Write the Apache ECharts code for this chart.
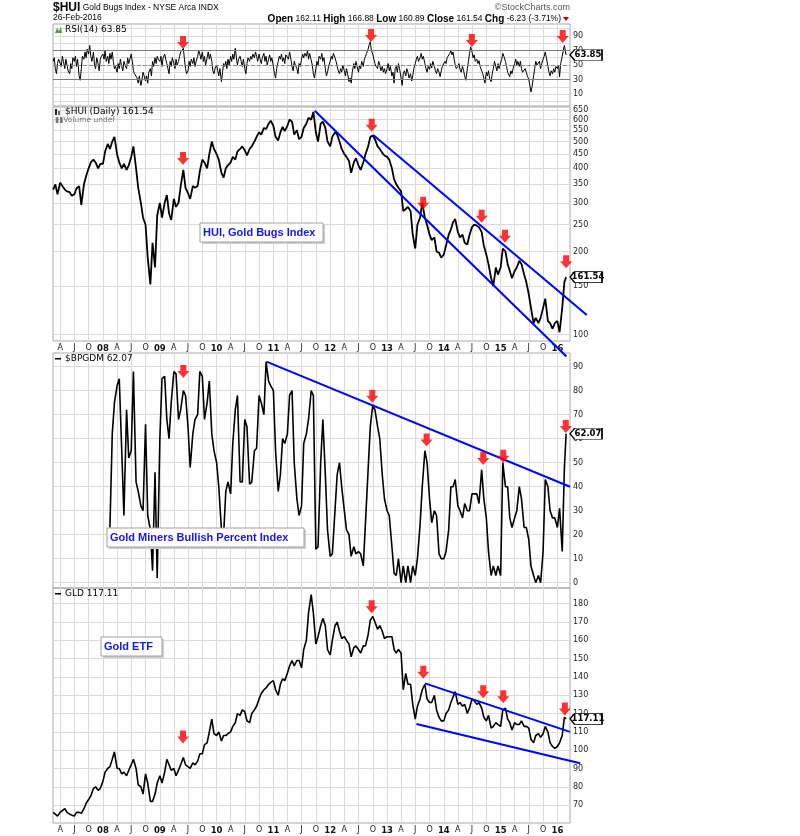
<!DOCTYPE html>
<html>
<head>
<meta charset="utf-8">
<title>$HUI Gold Bugs Index</title>
<script src="https://cdn.jsdelivr.net/npm/echarts@6/dist/echarts.min.js"></script>
<style>
  html, body { margin: 0; padding: 0; background: #fff; }
  #chart { width: 800px; height: 836px; }
</style>
</head>
<body>
<div id="chart"></div>
<script>
// ---- data (semi-monthly for prices, weekly for RSI) ----
var hui = [
  335, 350, 322, 355, 345, 335, 330, 328, 318, 322, 338, 345, 295, 350, 375, 400, 420, 430, 420, 400, 415, // 2007 from Feb 15
  415, 460, 490, 470, 500, 520, 450, 420, 400, 415, 395, 410, 440, 480, 400, 340, 300, 265, 250, 190, 152, 215, 175, 270, // 2008
  300, 265, 300, 320, 275, 260, 310, 290, 300, 345, 395, 340, 325, 310, 345, 340, 345, 390, 430, 420, 400, 450, 500, 470, // 2009
  450, 430, 385, 370, 400, 410, 420, 440, 430, 460, 470, 480, 465, 445, 470, 480, 500, 520, 540, 530, 560, 555, 580, 595, // 2010
  570, 520, 505, 540, 565, 545, 570, 600, 590, 530, 550, 510, 520, 560, 580, 610, 600, 640, 540, 500, 580, 590, 560, 500, // 2011
  480, 520, 540, 530, 500, 470, 450, 440, 425, 385, 420, 435, 410, 395, 420, 450, 480, 520, 525, 510, 480, 470, 455, 445, // 2012
  440, 430, 400, 365, 350, 340, 330, 280, 285, 290, 280, 230, 205, 250, 265, 300, 265, 250, 230, 220, 225, 200, 198, 190, // 2013
  195, 210, 230, 240, 255, 262, 235, 225, 230, 215, 212, 230, 245, 250, 248, 245, 235, 210, 195, 180, 160, 150, 175, 165, // 2014
  175, 205, 200, 180, 170, 160, 170, 175, 185, 180, 165, 155, 140, 125, 110, 115, 110, 115, 125, 135, 112, 110, 105, 110, // 2015
  112, 102, 125, 155, 161.54 // 2016
];
var bpgdm = [
  null, null, null, null, null, null, null, null, null, null, null, null, null, null, null, null, null, null, null, null, null, // 2007
  null, null, null, 23, 62, 75, 82, 85, 55, 28, 72, 52, 55, 88, 42, 38, 32, 30, 66, 28, 22, 5, 46, 2, // 2008
  60, 85, 86, 68, 60, 75, 88, 87, 68, 72, 80, 78, 65, 48, 62, 68, 70, 88, 86, 68, 75, 84, 62, 55, // 2009
  50, 40, 22, 20, 38, 42, 37, 58, 72, 78, 42, 42, 68, 65, 41, 42, 55, 56, 78, 75, 70, 92, 84, 82, // 2010
  80, 55, 38, 45, 60, 58, 62, 78, 80, 50, 35, 28, 32, 58, 62, 68, 80, 78, 14, 15, 50, 68, 45, 22, // 2011
  11, 12, 30, 45, 50, 40, 30, 22, 20, 11, 15, 12, 13, 12, 7, 25, 47, 65, 74, 72, 65, 60, 45, 35, // 2012
  30, 28, 15, 4, 3, 10, 0, 7, 0, 7, 0, 7, 3, 10, 24, 40, 55, 50, 35, 25, 30, 28, 12, 10, // 2013
  10, 13, 22, 40, 40, 43, 32, 30, 27, 33, 30, 30, 37, 37, 37, 33, 47, 35, 27, 13, 3, 7, 3, 7, // 2014
  3, 50, 40, 40, 27, 23, 27, 30, 40, 35, 23, 23, 18, 7, 3, 0, 3, 0, 13, 43, 40, 30, 27, 27, // 2015
  23, 31, 13, 48, 62.07 // 2016
];
var gld = [
  66, 65, 64, 66, 67, 68, 66, 65, 64.5, 64, 66, 66, 65.5, 68, 71, 73, 75, 79, 80, 78, 79, // 2007
  83, 88, 90, 91, 95, 99, 90, 90, 87, 88, 86, 89, 92, 95, 90, 81, 80, 76, 87, 82, 72, 72, 76, 82, // 2008
  86, 82, 88, 95, 92, 89, 90, 86, 89, 92, 96, 92, 91, 90, 93, 92, 94, 98, 98, 103, 104, 110, 117, 109, // 2009
  108, 110, 105, 108, 108, 109, 110, 113, 115, 120, 119, 122, 121, 116, 115, 120, 122, 124, 128, 131, 133, 134, 136, 137, // 2010
  138, 133, 130, 136, 139, 138, 142, 146, 149, 146, 149, 149, 145, 155, 160, 175, 185, 175, 158, 162, 168, 172, 168, 155, // 2011
  152, 160, 168, 170, 165, 161, 162, 160, 158, 151, 156, 157, 155, 153, 157, 157, 163, 171, 173, 170, 166, 168, 165, 161, // 2012
  162, 162, 162, 155, 153, 155, 153, 133, 142, 136, 136, 125, 117, 124, 128, 133, 136, 128, 126, 126, 130, 122, 118, 116, // 2013
  116, 120, 122, 126, 129, 132, 125, 126, 124, 125, 120, 123, 128, 127, 125, 126, 123, 118, 116, 119, 112, 113, 115, 114, // 2014
  113, 122, 123, 117, 115, 111, 115, 114, 114, 116, 113, 113, 112, 106, 104, 108, 109, 107, 109, 113, 110, 104, 102, 101, // 2015
  102, 104, 108, 118, 117.11 // 2016
];
var rsi = [
  55, 60, 45, 38, 52, 58, 60, 48, 62, 55, 45, 58, 50, 42, 38, 52, 45, 60, 55, 62, 48, 58, 35, 29, 45, 62, 58, 68, 60, 72, 65, 77, 62, 55, 68, 50, 45, 60, 52, 42, 58, 62, // 2007
  65, 58, 70, 55, 62, 52, 66, 58, 68, 55, 45, 48, 40, 52, 45, 58, 48, 42, 55, 50, 45, 60, 52, 58, 65, 55, 42, 38, 38, 32, 25, 35, 22, 30, 40, 35, 28, 35, 25, 40, 45, 35, 55, 48, 60, 52, 62, 58, // 2008
  55, 62, 48, 60, 65, 58, 52, 45, 38, 55, 48, 60, 52, 45, 58, 50, 55, 62, 68, 70, 73, 58, 45, 38, 42, 55, 48, 58, 52, 60, 48, 55, 62, 70, 65, 58, 68, 55, 62, 50, 60, 68, 58, 65, 55, 42, 38, 45, // 2009
  50, 42, 35, 45, 27, 40, 52, 48, 55, 45, 58, 50, 62, 55, 65, 58, 73, 60, 50, 58, 62, 55, 48, 58, 45, 38, 52, 60, 55, 62, 58, 65, 60, 68, 62, 55, 65, 58, 52, 60, 66, 55, 62, 50, 58, 64, 55, 60, // 2010
  48, 38, 32, 45, 55, 62, 58, 65, 55, 60, 52, 64, 66, 58, 68, 60, 48, 42, 55, 50, 45, 38, 52, 48, 58, 65, 60, 66, 62, 70, 58, 66, 64, 50, 38, 32, 45, 55, 50, 62, 58, 66, 55, 60, 45, 35, 40, 48, // 2011
  55, 62, 58, 66, 60, 55, 48, 42, 38, 45, 40, 50, 42, 35, 45, 38, 27, 32, 25, 40, 52, 45, 55, 48, 40, 50, 45, 55, 48, 58, 62, 66, 72, 78, 82, 70, 65, 58, 52, 48, 45, 55, 50, 42, 48, 40, 45, 38, // 2012
  45, 52, 42, 48, 35, 40, 25, 45, 48, 40, 52, 45, 32, 22, 38, 42, 35, 45, 40, 32, 38, 28, 35, 45, 52, 58, 62, 55, 60, 66, 58, 62, 52, 45, 40, 48, 44, 52, 46, 55, 48, 42, 38, 45, 40, 34, 42, 48, // 2013
  50, 55, 52, 60, 62, 66, 70, 64, 68, 58, 50, 45, 48, 52, 44, 40, 48, 42, 35, 29, 45, 55, 66, 75, 68, 60, 64, 55, 58, 52, 56, 48, 42, 38, 32, 25, 40, 35, 42, 32, 27, 38, 45, 55, 48, 42, 52, 45, // 2014
  45, 58, 66, 62, 55, 48, 40, 38, 34, 42, 38, 45, 52, 58, 50, 55, 48, 55, 45, 40, 38, 45, 40, 35, 30, 22, 13, 20, 35, 45, 55, 50, 48, 55, 45, 52, 58, 62, 68, 60, 48, 40, 35, 42, 38, 45, 40, 48, // 2015
  45, 50, 34, 52, 62, 70, 77, 68, 63.85 // 2016
];

// trend lines drawn on the chart: [date, value] end points
var huiLowerLine = [['2011-09-24', 646], ['2016-02-28', 83.3]];
var huiUpperLine = [['2012-10-04', 528], ['2016-07-08', 117.8]];
var bpgdmLine = [['2010-11-17', 92.1], ['2016-03-22', 40]];
var gldUpperLine = [['2013-09-02', 136.5], ['2016-03-22', 110]];
var gldLowerLine = [['2013-07-09', 114.3], ['2016-05-26', 92.8]];

// red arrows: [date, value at arrow tip]
var rsiArrows = [['2009-05-30', 72], ['2012-09-20', 81.7], ['2014-06-30', 74.8], ['2016-02-04', 80.3]];
var huiArrows = [['2009-05-30', 411], ['2012-09-24', 543], ['2013-08-21', 283], ['2014-09-01', 254], ['2015-01-29', 215], ['2016-02-26', 174]];
var bpgdmArrows = [['2009-06-01', 85.3], ['2012-09-28', 75], ['2013-09-12', 56.7], ['2014-09-11', 49], ['2015-01-18', 50], ['2016-02-24', 62.4]];
var gldArrows = [['2009-05-30', 103.7], ['2012-09-24', 174.8], ['2013-08-22', 139], ['2014-09-11', 128.3], ['2015-01-18', 125.6], ['2016-02-18', 119]];

// tick labels
var monthLetters = ['', 'A', 'J', 'O'];
var rsiLabels = [10, 30, 50, 70, 90];
var rsiGrid = [0, 10, 20, 30, 40, 50, 60, 70, 80, 90, 100];
var huiLabels = [100, 150, 200, 250, 300, 350, 400, 450, 500, 550, 600, 650];
var bpgdmLabels = [0, 10, 20, 30, 40, 50, 60, 70, 80, 90];
var gldLabels = [70, 80, 90, 100, 110, 120, 130, 140, 150, 160, 170, 180];

// ---- helpers ----
var FONT = 'DejaVu Sans';
var ARIAL = 'Liberation Sans';

function pad(n) { return n < 10 ? '0' + n : '' + n; }
function ts(s) {
  var p = s.split('-');
  return new Date(+p[0], +p[1] - 1, +p[2]).getTime();
}
function makeDates(days, first, last, extra) {
  var out = [];
  for (var y = 2007; y <= 2016; y++) {
    for (var m = 1; m <= 12; m++) {
      days.forEach(function (d) {
        var s = y + '-' + pad(m) + '-' + pad(d);
        if (s >= first && s <= last) out.push(s);
      });
    }
  }
  out.push(extra);
  return out;
}
var halfMonthDates = makeDates([1, 15], '2007-02-15', '2016-02-15', '2016-02-26');
var weekDates = makeDates([1, 8, 15, 22], '2007-02-15', '2016-02-22', '2016-02-26');

function zip(dates, vals, f) {
  var out = [];
  dates.forEach(function (d, i) {
    var v = vals[i];
    if (v == null) return;
    out.push([ts(d), f ? f(v) : v]);
  });
  return out;
}
function pts(list, f) {
  return list.map(function (p) { return [ts(p[0]), f ? f(p[1]) : p[1]]; });
}
var lg = function (v) { return Math.log10(v); };

var xMin = ts('2007-02-14');
var xMax = ts('2016-03-22');
var quarterTicks = [];
for (var y = 2007; y <= 2016; y++) {
  for (var m = 0; m < 12; m += 3) {
    var t = new Date(y, m, 1).getTime();
    if (t > xMin && t < xMax) quarterTicks.push(t);
  }
}
function fmtQuarter(v) {
  var d = new Date(v), mo = d.getMonth();
  if (mo === 0) return '{y|' + String(d.getFullYear()).slice(2) + '}';
  return monthLetters[mo / 3];
}

var grids = [
  { left: 53, top: 24, width: 517, height: 82 },
  { left: 53, top: 107, width: 517, height: 234 },
  { left: 53, top: 353, width: 517, height: 235 },
  { left: 53, top: 588, width: 517, height: 235 }
].map(function (g) {
  g.show = true; g.borderColor = '#a8a8a8'; g.borderWidth = 1;
  return g;
});

function xAxisFor(i, showLabels) {
  return {
    type: 'value', gridIndex: i, min: xMin, max: xMax,
    axisLine: { show: false },
    axisTick: { show: false, customValues: quarterTicks },
    splitLine: { show: true, lineStyle: { color: '#dadada', width: 1 } },
    axisLabel: {
      show: showLabels, customValues: quarterTicks, formatter: fmtQuarter,
      margin: 3, fontSize: 8, fontFamily: FONT, color: '#222',
      rich: { y: { fontWeight: 'bold', fontSize: 8.5, fontFamily: FONT, color: '#111' } }
    }
  };
}
function yAxisFor(i, min, max, gridVals, labelVals, fmt) {
  return {
    type: 'value', gridIndex: i, position: 'right', min: min, max: max,
    axisLine: { show: false },
    axisTick: { show: false, customValues: gridVals },
    splitLine: { show: true, lineStyle: { color: '#dadada', width: 1 } },
    axisLabel: {
      customValues: labelVals, formatter: fmt, margin: 3,
      fontSize: 8, fontFamily: FONT, color: '#222'
    }
  };
}

var arrowPath = 'path://M3,0L9,0L9,6L12,6L6,13L0,6L3,6Z';
function arrowSeries(i, data) {
  return {
    type: 'scatter', xAxisIndex: i, yAxisIndex: i, data: data,
    symbol: arrowPath, symbolSize: [12, 13], symbolOffset: [0, '-50%'],
    itemStyle: { color: '#ff0000' }, z: 6, silent: true
  };
}
function lastTag(y, text) {
  return {
    symbol: 'path://M0,5L5,0L34,0L34,10L5,10Z', symbolSize: [32, 11], symbolOffset: [16, 0],
    itemStyle: { color: '#fff', borderColor: '#000', borderWidth: 1 },
    label: {
      show: true, position: 'inside', offset: [2, 0], color: '#000',
      fontSize: 8.5, fontWeight: 'bold', fontFamily: FONT
    },
    data: [{ coord: [xMax, y], value: text, label: { formatter: text } }]
  };
}

var huiLog = huiLabels.map(lg);

var option = {
  animation: false,
  backgroundColor: '#fff',
  grid: grids,
  xAxis: [xAxisFor(0, false), xAxisFor(1, true), xAxisFor(2, false), xAxisFor(3, true)],
  yAxis: [
    yAxisFor(0, -6.5, 106.5, rsiGrid, rsiLabels),
    yAxisFor(1, 1.977, 2.824, huiLog, huiLog, function (v) { return Math.round(Math.pow(10, v)); }),
    yAxisFor(2, -2.2, 95.7, bpgdmLabels, bpgdmLabels),
    yAxisFor(3, 60.2, 188.6, gldLabels, gldLabels)
  ],
  series: [
    {
      type: 'line', name: 'RSI(14)', xAxisIndex: 0, yAxisIndex: 0,
      data: zip(weekDates, rsi), symbol: 'none',
      lineStyle: { color: '#000', width: 1 }, z: 3,
      markLine: {
        silent: true, symbol: 'none', label: { show: false },
        data: [
          { yAxis: 70, lineStyle: { color: '#7a7a7a', type: 'solid', width: 1 } },
          { yAxis: 30, lineStyle: { color: '#7a7a7a', type: 'solid', width: 1 } },
          { yAxis: 50, lineStyle: { color: '#8a8a8a', type: 'dashed', width: 1 } }
        ]
      },
      markPoint: lastTag(63.85, '63.85')
    },
    arrowSeries(0, pts(rsiArrows)),
    {
      type: 'line', name: '$HUI', xAxisIndex: 1, yAxisIndex: 1,
      data: zip(halfMonthDates, hui, lg), symbol: 'none',
      lineStyle: { color: '#000', width: 1.8 }, z: 3,
      markPoint: lastTag(lg(161.54), '161.54')
    },
    arrowSeries(1, pts(huiArrows, lg)),
    {
      type: 'line', name: '$BPGDM', xAxisIndex: 2, yAxisIndex: 2,
      data: zip(halfMonthDates, bpgdm), symbol: 'none',
      lineStyle: { color: '#000', width: 1.6 }, z: 3,
      markPoint: lastTag(62.07, '62.07')
    },
    arrowSeries(2, pts(bpgdmArrows)),
    {
      type: 'line', name: 'GLD', xAxisIndex: 3, yAxisIndex: 3,
      data: zip(halfMonthDates, gld), symbol: 'none',
      lineStyle: { color: '#000', width: 1.6 }, z: 3,
      markPoint: lastTag(117.11, '117.11')
    },
    arrowSeries(3, pts(gldArrows))
  ],
  graphic: []
};

function txt(x, y, text, font, fill, align, extra) {
  var st = { x: x, y: y, text: text, font: font, fill: fill || '#000',
    textAlign: align || 'left', textVerticalAlign: 'middle' };
  if (extra) for (var k in extra) st[k] = extra[k];
  return { type: 'text', z: 20, style: st, silent: true };
}
function noteBox(x, y, w, h, text) {
  return {
    type: 'group', z: 20, silent: true,
    children: [
      { type: 'rect', z: 20, shape: { x: x + 2, y: y + 2, width: w, height: h }, style: { fill: '#cfcfcf' } },
      { type: 'rect', z: 21, shape: { x: x, y: y, width: w, height: h }, style: { fill: '#fff', stroke: '#a0a0a0', lineWidth: 1 } },
      { type: 'text', z: 22, style: { x: x + 3, y: y + h / 2 + 0.5, text: text, fill: '#1515f0',
        font: 'bold 11px "Liberation Sans Narrow", "Liberation Sans", sans-serif', textVerticalAlign: 'middle' } }
    ]
  };
}

option.graphic = [
  txt(53, 8, '{h|$HUI} Gold Bugs Index - NYSE Arca INDX', '8.5px ' + ARIAL, '#000', 'left',
    { rich: { h: { fontWeight: 'bold', fontSize: 12, fontFamily: ARIAL } } }),
  txt(53, 18, '26-Feb-2016', '8.5px ' + ARIAL, '#000'),
  txt(570, 8, '\u00a9StockCharts.com', '9px ' + ARIAL, '#555', 'right'),
  txt(561, 19, '{b|Open} 162.11 {b|High} 166.88 {b|Low} 160.89 {b|Close} 161.54 {b|Chg} -6.23 (-3.71%)',
    '8.5px ' + ARIAL, '#000', 'right',
    { rich: { b: { fontWeight: 'bold', fontSize: 10, fontFamily: ARIAL } } }),
  { type: 'polygon', z: 20, shape: { points: [[563, 17], [569, 17], [566, 21]] }, style: { fill: '#c00000' } },

  // panel legends
  { type: 'polygon', z: 20, shape: { points: [[55, 33], [57, 28], [59, 31], [61, 27], [62, 33]] }, style: { fill: '#5a9a4a' } },
  txt(65, 30, 'RSI(14) 63.85', '9px ' + FONT),
  { type: 'rect', z: 20, shape: { x: 55, y: 109, width: 2, height: 6 }, style: { fill: '#222' } },
  { type: 'rect', z: 20, shape: { x: 58, y: 111, width: 2, height: 4 }, style: { fill: '#666' } },
  txt(65, 112, '$HUI (Daily) 161.54', '9px ' + FONT),
  txt(55, 120, '\u25ae\u25aeVolume undef', '7.5px ' + FONT, '#777'),
  { type: 'rect', z: 20, shape: { x: 55, y: 358, width: 6, height: 1.5 }, style: { fill: '#000' } },
  txt(65, 359, '$BPGDM 62.07', '9px ' + FONT),
  { type: 'rect', z: 20, shape: { x: 55, y: 593, width: 6, height: 1.5 }, style: { fill: '#000' } },
  txt(65, 594, 'GLD 117.11', '9px ' + FONT),

  // annotation boxes
  noteBox(200, 223, 123, 19, 'HUI, Gold Bugs Index'),
  noteBox(107, 528, 197, 19, 'Gold Miners Bullish Percent Index'),
  noteBox(101, 637, 61, 19, 'Gold ETF')
];

if (hui.length !== halfMonthDates.length || bpgdm.length !== halfMonthDates.length ||
    gld.length !== halfMonthDates.length || rsi.length !== weekDates.length) {
  console.warn('length mismatch', hui.length, bpgdm.length, gld.length, halfMonthDates.length, rsi.length, weekDates.length);
}

var chart = echarts.init(document.getElementById('chart'), null, { renderer: 'canvas' });
chart.setOption(option);

// trend lines run past the panel edges in the original, so place them
// through the axes' own scales and draw them unclipped
var trendLines = [
  [1, huiLowerLine, lg], [1, huiUpperLine, lg], [2, bpgdmLine],
  [3, gldUpperLine], [3, gldLowerLine]
];
var trendGraphics = trendLines.map(function (tl) {
  var p = pts(tl[1], tl[2]).map(function (d) {
    return chart.convertToPixel({ xAxisIndex: tl[0], yAxisIndex: tl[0] }, d);
  });
  return {
    type: 'line', z: 4, silent: true,
    shape: { x1: p[0][0], y1: p[0][1], x2: p[1][0], y2: p[1][1] },
    style: { stroke: '#0000ff', lineWidth: 2 }
  };
});
chart.setOption({ graphic: option.graphic.concat(trendGraphics) });
</script>
</body>
</html>
